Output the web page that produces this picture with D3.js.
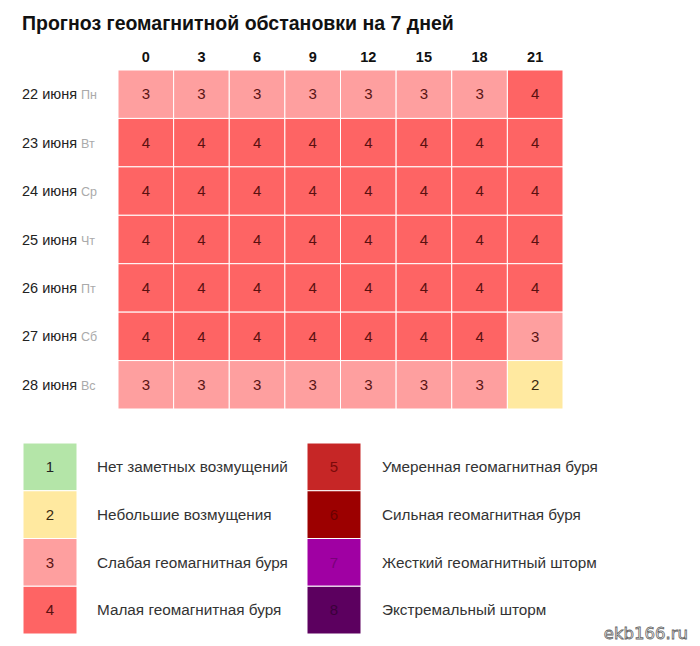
<!DOCTYPE html>
<html lang="ru">
<head>
<meta charset="UTF-8">
<title>Прогноз геомагнитной обстановки</title>
<script src="https://d3js.org/d3.v7.min.js"></script>
<style>
  body { margin: 0; background: #fff; }
  svg text { font-family: Arial, "Liberation Sans", sans-serif; }
</style>
</head>
<body>
<svg id="chart"></svg>
<script>
// data
const hours = ["0", "3", "6", "9", "12", "15", "18", "21"];
const days = ["22 июня", "23 июня", "24 июня", "25 июня", "26 июня", "27 июня", "28 июня"];
const weekdays = ["Пн", "Вт", "Ср", "Чт", "Пт", "Сб", "Вс"];
const kp = [
  [3, 3, 3, 3, 3, 3, 3, 4],
  [4, 4, 4, 4, 4, 4, 4, 4],
  [4, 4, 4, 4, 4, 4, 4, 4],
  [4, 4, 4, 4, 4, 4, 4, 4],
  [4, 4, 4, 4, 4, 4, 4, 4],
  [4, 4, 4, 4, 4, 4, 4, 3],
  [3, 3, 3, 3, 3, 3, 3, 2]
];
const levels = [1, 2, 3, 4, 5, 6, 7, 8];
const levelNames = [
  "Нет заметных возмущений",
  "Небольшие возмущения",
  "Слабая геомагнитная буря",
  "Малая геомагнитная буря",
  "Умеренная геомагнитная буря",
  "Сильная геомагнитная буря",
  "Жесткий геомагнитный шторм",
  "Экстремальный шторм"
];

const width = 700, height = 646;
const color = d3.scaleOrdinal()
  .domain(levels)
  .range(["#b4e5a8", "#ffe9a0", "#fe9f9f", "#fe6464", "#c62626", "#9c0000", "#a000a3", "#5c005f"]);
const textColor = d3.scaleOrdinal()
  .domain(levels)
  .range(["#222", "#3a2a10", "#5a1414", "#5a1010", "#7a0a0a", "#6a0000", "#7a007a", "#3a003a"]);

const svg = d3.select("#chart")
  .attr("width", width)
  .attr("height", height);

svg.append("text")
  .attr("x", 22).attr("y", 30)
  .style("font-size", "19.5px").style("font-weight", "bold").attr("fill", "#111")
  .text("Прогноз геомагнитной обстановки на 7 дней");

// grid scales
const x = d3.scaleBand().domain(hours).range([118, 563]).padding(0);
const y = d3.scaleBand().domain(days).range([70, 409]).padding(0);

svg.append("g").selectAll("text")
  .data(hours).enter().append("text")
  .attr("x", d => x(d) + x.bandwidth() / 2).attr("y", 62)
  .attr("text-anchor", "middle")
  .style("font-size", "14.5px").style("font-weight", "bold").attr("fill", "#111")
  .text(d => d);

const rowLabels = svg.append("g").selectAll("text")
  .data(days).enter().append("text")
  .attr("x", 22).attr("y", d => y(d) + y.bandwidth() / 2)
  .attr("dy", "0.35em")
  .style("font-size", "14.5px").attr("fill", "#222");
rowLabels.append("tspan").text(d => d);
rowLabels.append("tspan")
  .attr("dx", 4)
  .style("font-size", "12.5px").attr("fill", "#aaa")
  .text((d, i) => weekdays[i]);

const cells = [];
kp.forEach((row, i) => row.forEach((v, j) => cells.push({ day: days[i], hour: hours[j], v: v })));

const cell = svg.append("g").selectAll("g")
  .data(cells).enter().append("g")
  .attr("transform", d => `translate(${x(d.hour)},${y(d.day)})`);
cell.append("rect")
  .attr("width", x.bandwidth()).attr("height", y.bandwidth())
  .attr("fill", d => color(d.v))
  .attr("stroke", "#fff").attr("stroke-width", 1);
cell.append("text")
  .attr("x", x.bandwidth() / 2).attr("y", y.bandwidth() / 2)
  .attr("dy", "0.35em").attr("text-anchor", "middle")
  .style("font-size", "15px").attr("fill", d => textColor(d.v))
  .text(d => d.v);

// legend
const ly = d3.scaleBand().domain([0, 1, 2, 3]).range([443, 634]);
const legendCols = [{ box: 23, label: 97 }, { box: 307, label: 382 }];
const leg = svg.append("g").selectAll("g")
  .data(levels).enter().append("g")
  .attr("transform", (d, i) => `translate(0,${ly(i % 4)})`);
leg.append("rect")
  .attr("x", (d, i) => legendCols[Math.floor(i / 4)].box)
  .attr("width", 54).attr("height", ly.bandwidth())
  .attr("fill", d => color(d))
  .attr("stroke", "#fff").attr("stroke-width", 1);
leg.append("text")
  .attr("x", (d, i) => legendCols[Math.floor(i / 4)].box + 27)
  .attr("y", ly.bandwidth() / 2).attr("dy", "0.35em")
  .attr("text-anchor", "middle")
  .style("font-size", "15px").attr("fill", d => textColor(d))
  .text(d => d);
leg.append("text")
  .attr("x", (d, i) => legendCols[Math.floor(i / 4)].label)
  .attr("y", ly.bandwidth() / 2).attr("dy", "0.35em")
  .style("font-size", "15.3px").attr("fill", "#333")
  .text((d, i) => levelNames[i]);

// watermark
svg.append("text")
  .attr("x", 688).attr("y", 639).attr("text-anchor", "end")
  .style("font-family", "'DejaVu Sans', sans-serif").style("font-size", "16.5px")
  .attr("fill", "#fff").attr("stroke", "#666").attr("stroke-width", 0.8)
  .text("ekb166.ru");
</script>
</body>
</html>
